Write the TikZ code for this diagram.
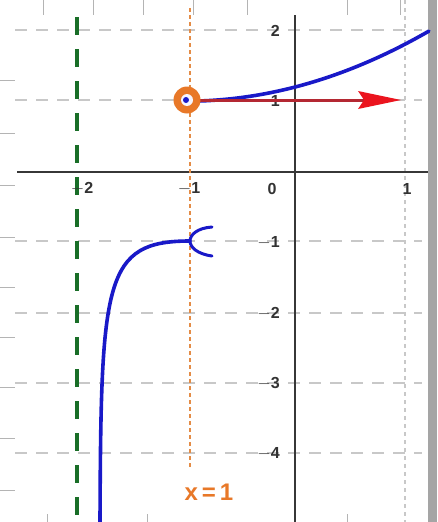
\documentclass[tikz,border=0pt]{standalone}
\usepackage{fontspec}
\setmainfont{Liberation Sans}
\usetikzlibrary{arrows.meta}
\definecolor{gridgray}{RGB}{200,200,200}
\definecolor{axisgray}{RGB}{55,55,55}
\definecolor{labgray}{RGB}{50,50,50}
\definecolor{asygreen}{RGB}{25,110,40}
\definecolor{lightor}{RGB}{228,140,70}
\definecolor{ringor}{RGB}{232,120,40}
\definecolor{curveblue}{RGB}{25,25,200}
\definecolor{arrowred}{RGB}{180,40,50}
\definecolor{headred}{RGB}{235,20,30}
\definecolor{stripgray}{RGB}{165,165,165}
\tikzset{
  gridline/.style={gridgray, line width=1.3pt, dash pattern=on 12pt off 9pt},
  finegrid/.style={gridgray, line width=1.2pt, dash pattern=on 4pt off 4pt},
  edgetick/.style={gridgray!90!black, line width=0.9pt},
  axisline/.style={axisgray, line width=1.8pt},
  ylab/.style={anchor=east, text=labgray, font=\fontsize{16}{16}\selectfont\bfseries, inner sep=0pt},
  xlab/.style={anchor=center, text=labgray, font=\fontsize{16}{16}\selectfont\bfseries, inner sep=0pt},
  bluecurve/.style={curveblue, line width=3.6pt, line cap=round},
}
\begin{document}
\begin{tikzpicture}[x=1pt,y=-1pt]
\useasboundingbox (0,0) rectangle (437,522);
\fill[white] (0,0) rectangle (437,522);
\fill[stripgray] (428,0) rectangle (437,522);
% edge ticks
\foreach \t in {43,93,143,193,247,347,400} \draw[edgetick] (\t,0) -- (\t,15);
\foreach \t in {80,133,185,237,287,337,387,438,490} \draw[edgetick] (0,\t) -- (15,\t);
\foreach \t in {47,147,347} \draw[edgetick] (\t,514) -- (\t,522);
% grid
\foreach \t in {30,100,241,313,383,453} \draw[gridline] (15,\t) -- (422,\t);
\draw[finegrid] (405,0) -- (405,522);
% axes
\draw[axisline] (17,172) -- (428,172);
\draw[axisline] (295,15) -- (295,522);
% asymptote and vertical line
\draw[asygreen, line width=4.5pt, dash pattern=on 18pt off 14pt] (77,17) -- (77,522);
\draw[lightor, line width=2.2pt, dash pattern=on 4pt off 3pt] (190,8) -- (190,468);
% labels
\node[ylab] (l2) at (280,31) {2};
\node[ylab] (l1) at (280,101) {1};
\node[ylab] (lm1) at (280,243) {\(-\)1};
\node[ylab] (lm2) at (280,314) {\(-\)2};
\node[ylab] (lm3) at (280,384) {\(-\)3};
\node[ylab] (lm4) at (280,454) {\(-\)4};
\node[xlab] (xm2) at (82,189) {\(-\)2};
\node[xlab] (xm1) at (189,189) {\(-\)1};
\node[xlab] (x0) at (272,189) {0};
\node[xlab] (x1) at (407,189) {1};
% right branch
\begin{scope}[shift={(295,172)}, x=109.3pt, y=70.8pt]
  \draw[bluecurve] plot[domain=-1:1.225, samples=60, smooth] (\x,{1+0.2*(\x+1)^2});
\end{scope}
% red arrow
\draw[arrowred, line width=3pt] (200,100) -- (366,100);
\fill[headred] (358,91) -- (401,100) -- (358,109) -- (364,100) -- cycle;
% closed point
\fill[ringor] (187,100) circle (13.5);
\fill[white!80!blue!20] (187,100) circle (6);
\fill[curveblue] (186,100) circle (3);
% left branch
\draw[bluecurve] (100,522) .. controls (101,280) and (104,241) .. (190,241);
\draw[curveblue, line width=3pt, line cap=round] (212,227) .. controls (197,228) and (190,235) .. (190,241) .. controls (190,247) and (197,254) .. (212,256);
% label
\node[text=ringor, font=\fontsize{24}{24}\selectfont\bfseries, inner sep=0pt] (lab) at (209,492) {x\,=\,1};
\end{tikzpicture}
\end{document}
